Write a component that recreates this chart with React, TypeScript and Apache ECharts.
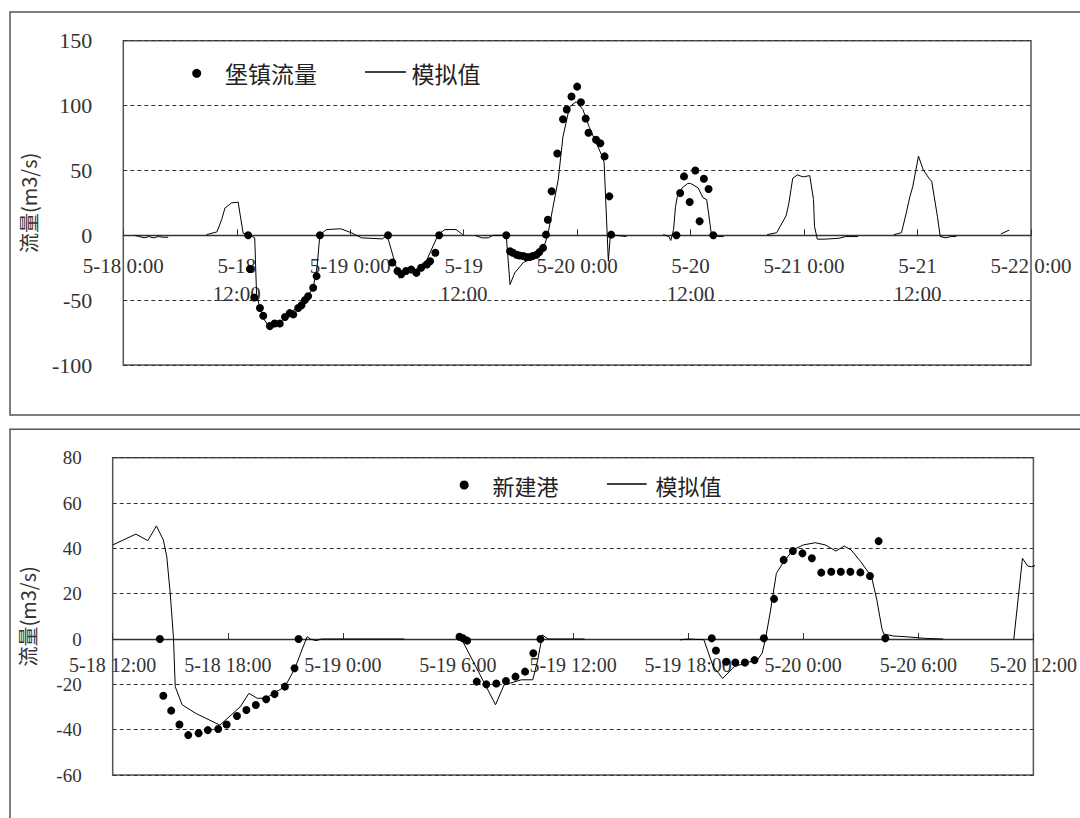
import React, { useEffect, useRef } from "react";
import * as echarts from "echarts";

// ---------- tick labels ----------
const topXLabels = [
  "5-18 0:00", "5-18\n12:00", "5-19 0:00", "5-19\n12:00", "5-20 0:00",
  "5-20\n12:00", "5-21 0:00", "5-21\n12:00", "5-22 0:00",
];
const bottomXLabels = [
  "5-18 12:00", "5-18 18:00", "5-19 0:00", "5-19 6:00", "5-19 12:00",
  "5-19 18:00", "5-20 0:00", "5-20 6:00", "5-20 12:00",
];

// ---------- top chart (堡镇): hours since 5-18 0:00, flow m3/s ----------
const topObserved: number[][] = [
  [13.2, 0], [13.4, -26], [13.85, -48], [14.45, -56], [14.8, -62], [15.5, -70], [16.0, -68],
  [16.55, -68], [17.1, -63], [17.6, -60], [17.97, -61], [18.5, -56], [18.85, -54], [19.2, -50],
  [19.55, -47], [20.08, -40.5], [20.44, -31.5], [20.8, 0],
  [28.0, 0], [28.45, -21], [29.0, -27.5], [29.4, -30], [29.9, -27.5], [30.45, -26.4], [31.0, -29],
  [31.5, -25], [32.1, -22.5], [32.45, -20], [33.0, -13.5], [33.4, 0],
  [40.5, 0], [40.9, -12.3], [41.2, -13.5], [41.6, -15], [41.9, -15.6], [42.3, -16], [42.6, -16.7],
  [43.0, -16.7], [43.3, -16], [43.7, -15], [44.0, -13], [44.4, -9.7], [44.7, 0.5], [44.9, 12],
  [45.3, 34], [45.9, 63], [46.5, 89.5], [46.9, 97], [47.4, 107], [48.0, 114.6], [48.4, 102.6],
  [48.9, 90], [49.2, 79], [50.0, 73.6], [50.45, 71], [50.9, 60.8], [51.4, 30], [51.6, 0.5],
  [58.5, 0], [58.9, 32.6], [59.3, 45.4], [59.9, 25.7], [60.5, 50], [60.95, 10.8], [61.4, 43.6],
  [61.9, 35.7], [62.4, 0],
];
const topSimSeg1: number[][] = [
  [1.2, 0], [1.7, -1], [2.2, -2], [2.7, -1], [3.2, -2], [3.7, -1], [4.2, -1.5], [4.75, -1.5],
];
const topSimSeg2: number[][] = [
  [8.8, 0.5], [9.9, 2.6], [10.4, 12], [10.75, 21], [11.45, 25], [12.15, 25.5], [12.33, 17],
  [12.68, 1.5], [13.2, 0.5], [13.9, -2], [14.1, -47], [14.8, -64], [15.5, -71], [16.56, -67],
  [17.97, -58], [19.38, -48], [20.08, -40.5], [20.5, -24], [20.79, 0.5], [21.5, 4.4], [23.0, 5],
  [24.1, 2], [25.2, -2], [27.4, -2.8], [27.9, 0], [29.2, -33], [29.8, -29], [31.0, -26],
  [32.1, -19], [33.3, 0.5], [34.0, 4.4], [35.2, 4.4], [35.9, 0.5],
];
const topSimSeg3: number[][] = [
  [37.2, 0], [37.9, -2], [38.6, -2], [39.1, 0], [40.5, 0], [40.9, -38], [41.4, -29], [42.3, -21],
  [43.5, -17], [44.4, -11], [44.9, 0.5], [45.4, 20], [46.0, 43], [46.5, 76], [47.2, 99],
  [47.9, 103], [48.6, 97], [49.3, 83], [50.7, 60], [50.85, 56], [51.3, -20], [51.5, -1],
  [52.1, 0], [53.2, -1],
];
const topSimSeg4: number[][] = [
  [57.1, 0.5], [57.7, -1], [57.9, -4], [58.2, 4.4], [58.4, 22], [58.6, 30], [59.1, 36.5],
  [59.7, 40], [60.0, 40], [60.8, 36.5], [61.3, 29], [61.7, 27.5], [61.9, 17], [62.2, 0.5],
  [63.0, -1], [63.5, -1],
];
const topSimSeg5: number[][] = [
  [68.1, 0.5], [69.1, 2], [70.1, 15], [70.4, 25], [70.8, 44], [71.3, 46.5], [71.9, 45],
  [72.6, 46], [73.0, 27.5], [73.1, 7], [73.4, -3], [74.2, -3], [75.7, -2.3], [76.4, -1], [77.7, -1],
];
const topSimSeg6: number[][] = [
  [81.5, 0.5], [82.3, 2], [82.8, 17], [83.2, 30], [83.5, 37.7], [84.1, 61], [84.6, 50.5],
  [85.2, 44], [85.5, 41.5], [86.1, 14.6], [86.4, -1], [87.0, -2], [87.5, -1], [88.1, -1],
];
const topSimSeg7: number[][] = [[92.8, 1], [93.7, 4]];

// ---------- bottom chart (新建港): hours since 5-18 12:00 ----------
const bottomObserved: number[][] = [
  [2.46, 0], [2.64, -25], [3.05, -31.6], [3.48, -37.7], [3.94, -42.4], [4.48, -41.6], [4.96, -40.2],
  [5.5, -39.7], [5.94, -37.7], [6.48, -34], [6.97, -31.3], [7.46, -29.1], [8.0, -26.6], [8.44, -24.3],
  [8.98, -21], [9.48, -12.9], [9.69, 0],
  [18.08, 1], [18.26, 0.3], [18.48, -0.7], [18.98, -18.8], [19.48, -20], [20.0, -19.6], [20.5, -18.5],
  [21.0, -16.6], [21.5, -14.4], [21.93, -6.3], [22.3, 0],
  [31.23, 0.3], [31.45, -5.1], [31.98, -10], [32.46, -10.4], [32.96, -10.4], [33.46, -9.3],
  [33.95, 0.3], [34.48, 17.7], [34.98, 34.9], [35.46, 38.8], [35.96, 37.8], [36.45, 35.6],
  [36.94, 29.3], [37.46, 29.7], [37.96, 29.7], [38.46, 29.7], [38.98, 29.4], [39.48, 27.8],
  [39.93, 43.2], [40.28, 0.3],
];
const bottomSimSeg1: number[][] = [
  [0, 41.5], [1.21, 46.3], [1.83, 43.4], [2.28, 49.9], [2.64, 43.7], [2.82, 36.3], [3.0, 20],
  [3.17, 0.3], [3.26, -21], [3.62, -29], [4.33, -32.8], [5.59, -38], [6.65, -29.9], [7.1, -24],
  [7.55, -26.2], [8.0, -26], [8.98, -21], [9.5, -13], [9.9, -4], [10.14, 1], [10.3, 0],
  [10.6, -0.7], [10.9, 0], [15.2, 0],
];
const bottomSimSeg2: number[][] = [
  [18.08, 1.8], [18.26, -1.2], [19.96, -29], [20.4, -20.3], [21.3, -18], [21.9, -18],
  [22.16, -9.3], [22.4, 1.8], [22.7, 0], [24.6, 0],
];
const bottomSimSeg3: number[][] = [
  [29.57, -0.4], [30.0, 0], [30.82, -0.3], [31.3, -12], [31.8, -17.4], [32.4, -12.2],
  [33.06, -10.4], [33.6, -9.3], [33.86, -6.3], [34.04, 0.3], [34.3, 12.8], [34.6, 29],
  [34.93, 33.4], [35.46, 39.3], [36.0, 41.5], [36.63, 42.5], [37.16, 41.5], [37.7, 38.8],
  [38.14, 41], [38.5, 39.3], [39.0, 34.1], [39.56, 27.5], [39.84, 17.2], [40.1, 4.7],
  [40.2, 2.2], [40.73, 1.3], [41.36, 1], [42.34, 0.3], [43.3, 0],
];
const bottomSimSeg4: number[][] = [
  [46.98, 0], [47.43, 35.6], [47.7, 32.2], [47.9, 31.9], [48.3, 33],
];

function joinSegments(segs: number[][][]): any[] {
  const out: any[] = [];
  segs.forEach((s, i) => {
    if (i > 0) out.push([(segs[i - 1][segs[i - 1].length - 1][0] + s[0][0]) / 2, "-"]);
    s.forEach((p) => out.push(p));
  });
  return out;
}

const NUM_FONT = "Liberation Serif";
const CJK_FONT = "Noto Sans CJK SC";
const TXT = "#333";

// grid geometry
const G0 = { left: 123.3, top: 40.7, width: 907.7, height: 324.3 };
const G1 = { left: 112.7, top: 457.7, width: 925.6, height: 317.3 };

export default function App() {
  const ref = useRef<HTMLDivElement>(null);

  useEffect(() => {
    document.body.style.margin = "0";
    if (!ref.current) return;
    const chart = echarts.init(ref.current, undefined, { renderer: "svg" });

    const splitLine = { show: true, lineStyle: { color: "#333", width: 1, type: [4, 3] as any } };
    // shift x axes (line, ticks and labels) up to the zero line
    const off0 = -(G0.height * 100) / 250;
    const off1 = -(G1.height * 60) / 140;

    const option: any = {
      animation: false,
      backgroundColor: "#fff",
      grid: [
        { ...G0, show: true, borderColor: "#555", borderWidth: 1.5, containLabel: false },
        { ...G1, show: true, borderColor: "#555", borderWidth: 1.5, containLabel: false },
      ],
      xAxis: [
        {
          gridIndex: 0, type: "value", min: 0, max: 96, interval: 12, offset: off0,
          axisLine: { onZero: false, lineStyle: { color: "#333", width: 1.3 } },
          axisTick: { show: true, inside: true, length: 6, lineStyle: { color: "#333" } },
          axisLabel: {
            formatter: (v: number) => topXLabels[Math.round(v / 12)] ?? "",
            fontFamily: NUM_FONT, fontSize: 21, color: TXT, lineHeight: 28, margin: 17,
            showMinLabel: true, showMaxLabel: true,
          },
          splitLine: { show: false },
        },
        {
          gridIndex: 1, type: "value", min: 0, max: 48, interval: 6, offset: off1,
          axisLine: { onZero: false, lineStyle: { color: "#333", width: 1.3 } },
          axisTick: { show: true, inside: true, length: 6, lineStyle: { color: "#333" } },
          axisLabel: {
            formatter: (v: number) => bottomXLabels[Math.round(v / 6)] ?? "",
            fontFamily: NUM_FONT, fontSize: 20, color: TXT, lineHeight: 20, margin: 16,
            showMinLabel: true, showMaxLabel: true,
          },
          splitLine: { show: false },
        },
      ],
      yAxis: [
        {
          gridIndex: 0, type: "value", min: -100, max: 150, interval: 50,
          name: "流量(m3/s)", nameLocation: "middle", nameGap: 85,
          nameTextStyle: { fontFamily: CJK_FONT, fontSize: 20, color: TXT },
          axisLine: { show: false }, axisTick: { show: false },
          axisLabel: { fontFamily: NUM_FONT, fontSize: 22, color: TXT, margin: 31 },
          splitLine,
        },
        {
          gridIndex: 1, type: "value", min: -60, max: 80, interval: 20,
          name: "流量(m3/s)", nameLocation: "middle", nameGap: 75,
          nameTextStyle: { fontFamily: CJK_FONT, fontSize: 20, color: TXT },
          axisLine: { show: false }, axisTick: { show: false },
          axisLabel: { fontFamily: NUM_FONT, fontSize: 19, lineHeight: 17, color: TXT, margin: 31 },
          splitLine,
        },
      ],
      series: [
        {
          name: "模拟值", type: "line", xAxisIndex: 0, yAxisIndex: 0,
          data: joinSegments([topSimSeg1, topSimSeg2, topSimSeg3, topSimSeg4, topSimSeg5, topSimSeg6, topSimSeg7]),
          showSymbol: false, symbol: "none", connectNulls: false,
          lineStyle: { color: "#000", width: 1 }, z: 2,
        },
        {
          name: "堡镇流量", type: "scatter", xAxisIndex: 0, yAxisIndex: 0,
          data: topObserved, symbol: "circle", symbolSize: 8,
          itemStyle: { color: "#000", opacity: 1 }, z: 3,
        },
        {
          name: "模拟值 ", type: "line", xAxisIndex: 1, yAxisIndex: 1,
          data: joinSegments([bottomSimSeg1, bottomSimSeg2, bottomSimSeg3, bottomSimSeg4]),
          showSymbol: false, symbol: "none", connectNulls: false, clip: false,
          lineStyle: { color: "#000", width: 1 }, z: 2,
        },
        {
          name: "新建港", type: "scatter", xAxisIndex: 1, yAxisIndex: 1,
          data: bottomObserved, symbol: "circle", symbolSize: 8,
          itemStyle: { color: "#000", opacity: 1 }, z: 3,
        },
      ],
      graphic: [
        { type: "rect", silent: true, shape: { x: 10, y: 12, width: 1200, height: 403 }, style: { fill: "none", stroke: "#555", lineWidth: 1.5 } },
        { type: "rect", silent: true, shape: { x: 10, y: 429.3, width: 1200, height: 500 }, style: { fill: "none", stroke: "#555", lineWidth: 1.5 } },
        // top legend
        { type: "circle", shape: { cx: 196.7, cy: 73.3, r: 4.5 }, style: { fill: "#000" } },
        { type: "text", x: 225, y: 73, style: { text: "堡镇流量", fontFamily: CJK_FONT, fontSize: 23, fill: "#222", verticalAlign: "middle" } },
        { type: "line", shape: { x1: 365, y1: 72, x2: 406, y2: 72 }, style: { stroke: "#000", lineWidth: 1.3 } },
        { type: "text", x: 411.5, y: 73, style: { text: "模拟值", fontFamily: CJK_FONT, fontSize: 23, fill: "#222", verticalAlign: "middle" } },
        // bottom legend
        { type: "circle", shape: { cx: 464.2, cy: 485, r: 4.5 }, style: { fill: "#000" } },
        { type: "text", x: 492.4, y: 485, style: { text: "新建港", fontFamily: CJK_FONT, fontSize: 22, fill: "#222", verticalAlign: "middle" } },
        { type: "line", shape: { x1: 607, y1: 484, x2: 646.7, y2: 484 }, style: { stroke: "#000", lineWidth: 1.3 } },
        { type: "text", x: 655.4, y: 485, style: { text: "模拟值", fontFamily: CJK_FONT, fontSize: 22, fill: "#222", verticalAlign: "middle" } },
      ],
    };

    chart.setOption(option);
    return () => chart.dispose();
  }, []);

  return <div ref={ref} style={{ width: 1080, height: 818 }} />;
}
